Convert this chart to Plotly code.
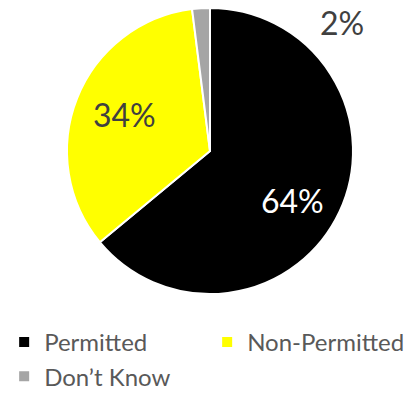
import plotly.graph_objects as go

# Survey shares by permit status
categories = ["Permitted", "Non-Permitted", "Don\u2019t Know"]
shares = [64, 34, 2]
slice_colors = ["#000000", "#FFFF00", "#A5A5A5"]
label_colors = ["#FFFFFF", "#404040", "#404040"]

W, H = 416, 394
cx, cy, r = 210, 151, 143

fig = go.Figure(
    go.Pie(
        labels=categories,
        values=shares,
        sort=False,
        direction="clockwise",
        rotation=0,
        marker=dict(colors=slice_colors, line=dict(color="#FFFFFF", width=2)),
        textinfo="none",
        hoverinfo="label+percent",
        domain=dict(x=[(cx - r) / W, (cx + r) / W], y=[1 - (cy + r) / H, 1 - (cy - r) / H]),
    )
)

# Percentage labels placed in/around each slice
label_pos = [(292, 200), (124, 115), (342, 22)]
for val, col, (px, py) in zip(shares, label_colors, label_pos):
    fig.add_annotation(
        x=px / W, y=1 - py / H, xref="paper", yref="paper",
        text=f"{val}%", showarrow=False,
        font=dict(family="Lato", size=32, color=col),
        xanchor="center", yanchor="middle",
    )

fig.update_layout(
    width=W, height=H,
    margin=dict(l=0, r=0, t=0, b=0, autoexpand=False),
    paper_bgcolor="#FFFFFF",
    plot_bgcolor="#FFFFFF",
    font=dict(family="Lato", color="#595959"),
    legend=dict(
        orientation="h",
        x=0.01, xanchor="left",
        y=1 - 320 / H, yanchor="top",
        entrywidth=158, entrywidthmode="pixels",
        font=dict(size=24, color="#595959"),
        bgcolor="rgba(0,0,0,0)",
        itemwidth=30,
        tracegroupgap=0,
    ),
    showlegend=True,
)

fig.write_html("out.html")
